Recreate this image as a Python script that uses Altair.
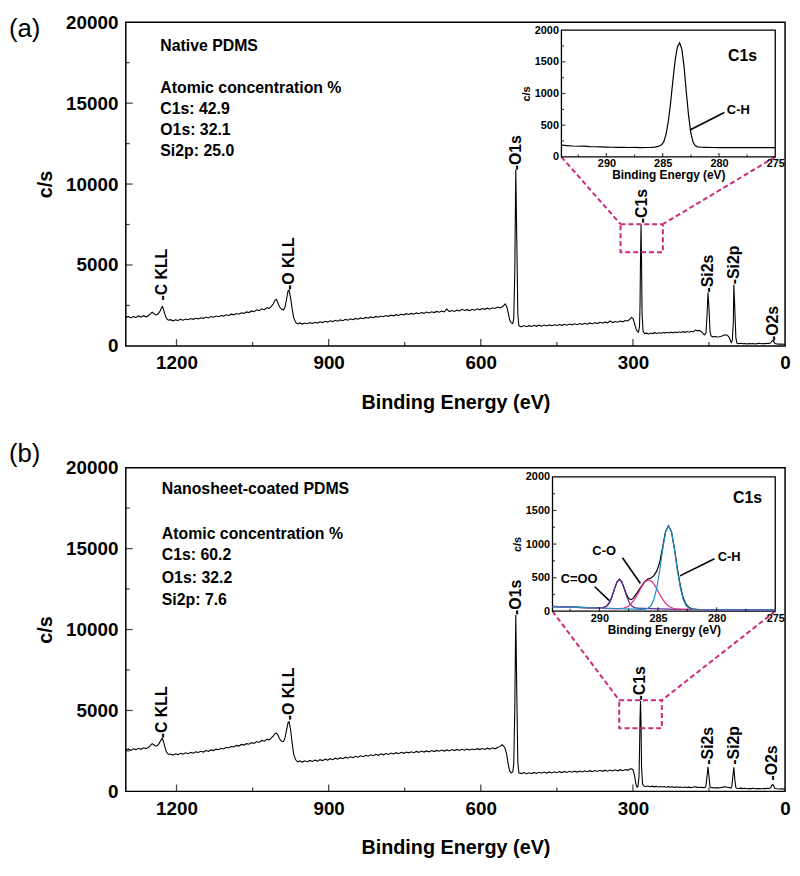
import altair as alt
import pandas as pd

FONT = "Liberation Sans"
W, H = 666, 327
PINK = "#cc2a7a"

# ---------------- survey spectra (binding energy eV, counts/s) ----------------
survey_a = [
    (1300, 1750), (1295, 1820), (1290, 1730), (1285, 1810), (1280, 1760), (1275, 1850), (1270, 1780),
    (1265, 1870), (1260, 1800), (1255, 1880), (1251, 1990), (1248, 2080), (1245, 2010), (1241, 1910),
    (1237, 1960), (1233, 2120), (1230, 2330), (1228, 2440), (1226, 2300), (1223, 1960), (1220, 1700),
    (1216, 1590), (1212, 1620), (1207, 1550), (1202, 1610), (1197, 1570), (1192, 1640), (1187, 1590),
    (1182, 1660), (1177, 1620), (1172, 1690), (1167, 1640), (1162, 1710), (1157, 1670), (1152, 1740),
    (1147, 1700), (1142, 1780), (1137, 1730), (1132, 1810), (1127, 1770), (1122, 1850), (1117, 1800),
    (1112, 1880), (1107, 1840), (1102, 1920), (1097, 1880), (1092, 1960), (1087, 1920), (1082, 2000),
    (1077, 1960), (1072, 2050), (1067, 2010), (1062, 2100), (1057, 2060), (1052, 2160), (1047, 2110),
    (1042, 2230), (1037, 2180), (1032, 2290), (1027, 2240), (1022, 2360), (1017, 2320), (1013, 2450),
    (1009, 2600), (1006, 2820), (1003, 2880), (1000, 2650), (997, 2420), (993, 2280), (989, 2220),
    (986, 2400), (983, 2900), (980, 3400), (978, 3440), (975, 2950), (972, 2300), (969, 1750),
    (965, 1450), (961, 1360), (957, 1420), (952, 1350), (947, 1410), (942, 1370), (937, 1440),
    (932, 1390), (927, 1460), (922, 1410), (917, 1490), (912, 1440), (907, 1520), (902, 1470),
    (897, 1550), (892, 1500), (887, 1580), (882, 1530), (877, 1610), (872, 1560), (867, 1640),
    (862, 1590), (857, 1670), (852, 1620), (847, 1700), (842, 1650), (837, 1730), (832, 1680),
    (827, 1760), (822, 1710), (817, 1790), (812, 1740), (807, 1820), (802, 1770), (797, 1850),
    (792, 1800), (787, 1880), (782, 1830), (777, 1900), (772, 1860), (767, 1930), (762, 1880),
    (757, 1960), (752, 1910), (747, 1990), (742, 1940), (737, 2010), (732, 1960), (727, 2040),
    (722, 1990), (717, 2060), (712, 2010), (707, 2090), (702, 2040), (697, 2110), (692, 2060),
    (687, 2130), (682, 2080), (677, 2150), (672, 2100), (667, 2280), (662, 2120), (657, 2190),
    (652, 2130), (647, 2210), (642, 2160), (637, 2260), (632, 2190), (627, 2240), (622, 2180),
    (617, 2260), (612, 2210), (607, 2290), (602, 2230), (597, 2310), (592, 2260), (587, 2330),
    (582, 2270), (577, 2360), (572, 2310), (567, 2400), (562, 2350), (558, 2420), (555, 2480),
    (552, 2600), (549, 2450), (546, 2050), (543, 1600), (540, 1420), (537, 1380), (535, 1700),
    (533, 4500), (531, 10900), (529, 6500), (527, 2000), (525, 1250), (520, 1180), (515, 1260),
    (510, 1190), (505, 1250), (500, 1200), (495, 1270), (490, 1210), (485, 1280), (480, 1220),
    (475, 1290), (470, 1230), (465, 1300), (460, 1250), (455, 1310), (450, 1260), (445, 1320),
    (440, 1270), (435, 1340), (430, 1280), (425, 1350), (420, 1300), (415, 1370), (410, 1310),
    (405, 1380), (400, 1330), (395, 1400), (390, 1340), (385, 1420), (380, 1360), (375, 1440),
    (370, 1380), (365, 1460), (360, 1400), (355, 1480), (350, 1420), (345, 1540), (340, 1440),
    (335, 1510), (330, 1460), (325, 1540), (320, 1490), (315, 1570), (310, 1540), (306, 1660),
    (303, 1760), (300, 1700), (297, 1400), (294, 1080), (291, 880), (289, 850), (287, 1200),
    (286, 2500), (285, 5500), (284, 7500), (283, 5200), (282, 2000), (280, 900), (277, 760),
    (273, 790), (269, 740), (265, 800), (261, 760), (257, 820), (253, 770), (249, 810), (245, 780),
    (241, 830), (237, 790), (233, 840), (229, 800), (225, 850), (221, 810), (217, 860), (213, 820),
    (209, 870), (205, 830), (201, 880), (197, 840), (193, 890), (189, 850), (185, 900), (181, 860),
    (177, 980), (173, 930), (169, 960), (165, 880), (162, 780), (159, 680), (156, 800), (154, 1800),
    (152, 3300), (150, 2300), (148, 900), (146, 620), (142, 560), (138, 580), (134, 550), (130, 570),
    (126, 600), (122, 640), (118, 690), (114, 660), (111, 560), (108, 350), (106, 200), (104, 350),
    (102, 1500), (101, 3800), (99, 2200), (97, 500), (95, 180), (91, 140), (87, 160), (83, 130),
    (79, 150), (75, 120), (71, 140), (67, 130), (63, 150), (59, 120), (55, 140), (51, 160), (47, 130),
    (43, 150), (39, 140), (35, 160), (31, 150), (28, 200), (26, 300), (24, 350), (22, 250), (20, 150),
    (16, 120), (12, 110), (8, 120), (4, 100), (0, 110),
]

survey_b = [
    (1300, 2560), (1295, 2620), (1290, 2530), (1285, 2630), (1280, 2580), (1275, 2660), (1270, 2600),
    (1265, 2690), (1260, 2640), (1255, 2720), (1251, 2850), (1248, 2950), (1245, 2880), (1241, 2790),
    (1237, 2850), (1234, 2980), (1231, 3150), (1228, 3270), (1226, 3100), (1223, 2750), (1220, 2450),
    (1216, 2280), (1212, 2310), (1207, 2240), (1202, 2320), (1197, 2270), (1192, 2350), (1187, 2300),
    (1182, 2380), (1177, 2330), (1172, 2410), (1167, 2360), (1162, 2440), (1157, 2400), (1152, 2480),
    (1147, 2430), (1142, 2520), (1137, 2470), (1132, 2560), (1127, 2520), (1122, 2610), (1117, 2570),
    (1112, 2660), (1107, 2620), (1102, 2720), (1097, 2680), (1092, 2780), (1087, 2740), (1082, 2840),
    (1077, 2800), (1072, 2900), (1067, 2860), (1062, 2950), (1057, 2910), (1052, 3010), (1047, 2960),
    (1042, 3080), (1037, 3020), (1032, 3150), (1027, 3100), (1022, 3220), (1017, 3180), (1013, 3300),
    (1009, 3420), (1006, 3560), (1003, 3600), (1000, 3480), (997, 3250), (993, 3100), (989, 3080),
    (986, 3300), (983, 3800), (980, 4250), (978, 4300), (975, 3800), (972, 3000), (969, 2300),
    (965, 1950), (961, 1820), (957, 1880), (952, 1810), (947, 1890), (942, 1830), (937, 1910),
    (932, 1850), (927, 1930), (922, 1870), (917, 1960), (912, 1900), (907, 1990), (902, 1930),
    (897, 2020), (892, 1960), (887, 2050), (882, 1990), (877, 2080), (872, 2020), (867, 2110),
    (862, 2050), (857, 2140), (852, 2080), (847, 2170), (842, 2110), (837, 2200), (832, 2140),
    (827, 2230), (822, 2170), (817, 2260), (812, 2200), (807, 2290), (802, 2230), (797, 2320),
    (792, 2260), (787, 2340), (782, 2280), (777, 2370), (772, 2310), (767, 2390), (762, 2330),
    (757, 2410), (752, 2350), (747, 2430), (742, 2380), (737, 2450), (732, 2390), (727, 2470),
    (722, 2410), (717, 2490), (712, 2430), (707, 2500), (702, 2440), (697, 2520), (692, 2460),
    (687, 2530), (682, 2480), (677, 2550), (672, 2490), (667, 2560), (662, 2500), (657, 2580),
    (652, 2520), (647, 2590), (642, 2530), (637, 2600), (632, 2540), (627, 2610), (622, 2560),
    (617, 2620), (612, 2570), (607, 2640), (602, 2580), (597, 2650), (592, 2590), (587, 2670),
    (582, 2610), (577, 2690), (572, 2630), (567, 2710), (562, 2780), (558, 2880), (555, 2800),
    (552, 2650), (549, 2300), (546, 1700), (543, 1250), (540, 1150), (537, 1200), (535, 1700),
    (533, 5000), (531, 10900), (529, 6000), (527, 1800), (525, 1150), (520, 1100), (515, 1160),
    (510, 1090), (505, 1150), (500, 1100), (495, 1170), (490, 1110), (485, 1180), (480, 1120),
    (475, 1190), (470, 1130), (465, 1200), (460, 1140), (455, 1210), (450, 1150), (445, 1220),
    (440, 1160), (435, 1230), (430, 1170), (425, 1240), (420, 1180), (415, 1250), (410, 1190),
    (405, 1260), (400, 1200), (395, 1270), (390, 1210), (385, 1280), (380, 1220), (375, 1290),
    (370, 1230), (365, 1300), (360, 1240), (355, 1310), (350, 1250), (345, 1320), (340, 1260),
    (335, 1330), (330, 1270), (325, 1340), (320, 1280), (315, 1350), (310, 1300), (306, 1380),
    (303, 1400), (300, 1340), (297, 1000), (294, 450), (292, 260), (290, 300), (288, 900),
    (287, 2500), (286, 4500), (285, 5600), (284, 4200), (283, 1500), (281, 450), (278, 320),
    (274, 300), (270, 330), (266, 290), (262, 320), (258, 280), (254, 310), (250, 270), (246, 300),
    (242, 270), (238, 300), (234, 260), (230, 290), (226, 260), (222, 280), (218, 250), (214, 280),
    (210, 250), (206, 270), (202, 240), (198, 270), (194, 240), (190, 260), (186, 230), (182, 260),
    (178, 280), (174, 260), (170, 240), (166, 250), (162, 230), (158, 240), (156, 350), (154, 900),
    (152, 1520), (150, 900), (148, 300), (146, 220), (142, 230), (138, 210), (134, 230), (130, 210),
    (126, 240), (122, 260), (118, 280), (114, 260), (110, 230), (107, 200), (105, 300), (103, 900),
    (101, 1480), (99, 700), (97, 230), (95, 190), (91, 180), (87, 200), (83, 170), (79, 190),
    (75, 160), (71, 180), (67, 170), (63, 190), (59, 160), (55, 180), (51, 170), (47, 160), (43, 180),
    (39, 170), (35, 190), (31, 180), (28, 250), (26, 380), (24, 420), (22, 300), (20, 180), (16, 160),
    (12, 150), (8, 160), (4, 140), (0, 150),
]

# peak labels: (text, BE, counts at label foot)
peaks_a = [("-C KLL", 1228, 2800), ("-O KLL", 979, 3450), ("-O1s", 531, 10850),
           ("-C1s", 283, 7580), ("-Si2s", 152, 3300), ("-Si2p", 101, 3810), ("-O2s", 24, 300)]
peaks_b = [("-C KLL", 1228, 3280), ("-O KLL", 979, 4390), ("-O1s", 531, 10900),
           ("-C1s", 285, 5610), ("-Si2s", 152, 1650), ("-Si2p", 101, 1650), ("-O2s", 25, 670)]

notes_a = [("Native PDMS", 1232, 18530), ("Atomic concentration %", 1232, 15945),
           ("C1s: 42.9", 1232, 14660), ("O1s: 32.1", 1232, 13350), ("Si2p: 25.0", 1232, 12050)]
notes_b = [("Nanosheet-coated PDMS", 1229, 18660), ("Atomic concentration %", 1229, 15915),
           ("C1s: 60.2", 1229, 14590), ("O1s: 32.2", 1229, 13190), ("Si2p: 7.6", 1229, 11850)]

# zoom box (BE from, BE to, counts low, counts high) and inset box (BE left, BE right, counts top, counts bottom)
zoom_a = (324.5, 241, 5790, 7520)
zoom_b = (327, 243, 3900, 5630)
inset_box_a = (441, 19.4, 19510, 11680)
inset_box_b = (458.6, 19.4, 19430, 11130)

# ---------------- C1s high-resolution insets ----------------
c1s_native = [
    (294, 185), (293.5, 178), (293, 172), (292.5, 168), (292, 170), (291.5, 163), (291, 160),
    (290.5, 158), (290, 155), (289.5, 152), (289, 150), (288.5, 152), (288, 148), (287.5, 150),
    (287, 147), (286.5, 148), (286, 150), (285.7, 155), (285.4, 165), (285.1, 190), (284.9, 240),
    (284.7, 360), (284.5, 560), (284.3, 850), (284.1, 1200), (283.9, 1520), (283.7, 1730),
    (283.5, 1800), (283.3, 1700), (283.1, 1420), (282.9, 1020), (282.7, 650), (282.5, 380),
    (282.3, 230), (282.1, 175), (281.9, 158), (281.6, 152), (281.2, 150), (280.5, 148), (280, 147),
    (279, 146), (278, 145), (277, 146), (276, 145), (275, 145),
]
c1s_coated = [
    (294, 72), (293.5, 68), (293, 64), (292.5, 62), (292, 60), (291.5, 57), (291, 55), (290.5, 52),
    (290, 52), (289.7, 56), (289.4, 75), (289.1, 140), (288.9, 230), (288.7, 340), (288.5, 430),
    (288.3, 478), (288.1, 440), (287.9, 350), (287.7, 255), (287.5, 190), (287.3, 172), (287.1, 195),
    (286.8, 270), (286.5, 350), (286.2, 430), (285.9, 475), (285.6, 495), (285.35, 530), (285.1, 600),
    (284.85, 730), (284.6, 960), (284.35, 1190), (284.1, 1275), (283.85, 1180), (283.6, 940),
    (283.35, 640), (283.1, 380), (282.85, 200), (282.6, 100), (282.35, 55), (282.1, 35), (281.5, 26),
    (280, 23), (278, 21), (276, 20), (275, 20),
]
fit_cooo = [
    (294, 70), (292, 58), (290.5, 50), (289.8, 52), (289.5, 62), (289.3, 89), (289.1, 146),
    (288.9, 235), (288.7, 344), (288.5, 438), (288.3, 475), (288.1, 438), (287.9, 344), (287.7, 235),
    (287.5, 146), (287.3, 89), (287.1, 61), (286.8, 45), (285, 35), (282, 25), (278, 20), (275, 20),
]
fit_co = [
    (294, 68), (292, 56), (290, 45), (288.6, 36), (288.3, 38), (287.9, 48), (287.6, 68), (287.3, 108),
    (287.0, 176), (286.7, 265), (286.4, 362), (286.1, 440), (285.8, 470), (285.5, 440), (285.2, 362),
    (284.9, 265), (284.6, 176), (284.3, 108), (284.0, 66), (283.7, 44), (283.3, 30), (282, 24),
    (278, 20), (275, 20),
]
fit_ch = [
    (294, 66), (290, 48), (287, 32), (286.5, 28), (286.1, 30), (285.85, 44), (285.6, 85), (285.35, 175),
    (285.1, 350), (284.85, 610), (284.6, 920), (284.35, 1180), (284.1, 1270), (283.85, 1180),
    (283.6, 920), (283.35, 610), (283.1, 350), (282.85, 175), (282.6, 85), (282.35, 44), (282.1, 28),
    (281.7, 22), (278, 20), (275, 20),
]
fit_names = ["C=OO", "C-O", "C-H"]
fit_colors = ["#5b2d9e", "#e0308a", "#1f8fc4"]

inset_text_a = [("C1s", 279.2, 1590, 16), ("C-H", 279.3, 740, 13)]
inset_ptr_a = [(282.58, 425, 279.52, 700)]
inset_text_b = [("C1s", 278.6, 1680, 16), ("C-H", 279.9, 806, 13), ("C-O", 290.6, 894, 13),
                ("C=OO", 293.3, 476, 13)]
inset_ptr_b = [(283.13, 526, 280.18, 781), (286.5, 413, 288.03, 796), (289.15, 158, 290.4, 364)]

main_x_major = [1200, 900, 600, 300]
main_x_minor = [1050, 750, 450, 150]
main_y_major = [5000, 10000, 15000]
main_y_minor = [2500, 7500, 12500, 17500]
in_x_major = [290, 285, 280]
in_x_minor = [292.5, 287.5, 282.5, 277.5]
in_y_major = [500, 1000, 1500]
in_y_minor = [250, 750, 1250, 1750]


def px(be):
    return (1300 - be) / 1300 * W


def py(c):
    return (20000 - c) / 20000 * H


def ticks(values, scale, axis_dir, pos, length):
    df = pd.DataFrame({"v": values})
    if axis_dir == "x":
        return alt.Chart(df).mark_tick(orient="vertical", color="black", thickness=1.3, size=length).encode(
            x=alt.X("v:Q", scale=scale, axis=None), y=alt.value(pos))
    return alt.Chart(df).mark_tick(orient="horizontal", color="black", thickness=1.3, size=length).encode(
        y=alt.Y("v:Q", scale=scale, axis=None), x=alt.value(pos))


def panel(tag, tag_y, survey, peaks, notes, zoom, ibox, inset_lines, itexts, iptrs):
    xs = alt.Scale(domain=[1300, 0], nice=False, zero=False)
    ys = alt.Scale(domain=[0, 20000], nice=False)
    X = lambda f, **k: alt.X(f, scale=xs, **k)
    Y = lambda f, **k: alt.Y(f, scale=ys, **k)

    line = alt.Chart(pd.DataFrame(survey, columns=["be", "cps"])).mark_line(
        color="black", strokeWidth=1.1).encode(
        x=X("be:Q", axis=alt.Axis(values=[1200, 900, 600, 300, 0], format="d", title="Binding Energy (eV)",
                                  labelPadding=8, titlePadding=20, orient="bottom")),
        y=Y("cps:Q", axis=alt.Axis(values=[0, 5000, 10000, 15000, 20000], format="d", title="c/s",
                                   labelPadding=8, titlePadding=10, orient="left")),
    )
    zdf = pd.DataFrame([zoom], columns=["b1", "b2", "c1", "c2"])
    zrect = alt.Chart(zdf).mark_rect(fillOpacity=0, stroke=PINK, strokeWidth=2, strokeDash=[5, 3]).encode(
        x=X("b1:Q", axis=None), x2="b2:Q", y=Y("c1:Q", axis=None), y2="c2:Q")
    ldf = pd.DataFrame([(ibox[0], ibox[3], zoom[0], zoom[3]), (ibox[1], ibox[3], zoom[1], zoom[3])],
                       columns=["bx", "cy", "bx2", "cy2"])
    links = alt.Chart(ldf).mark_rule(stroke=PINK, strokeWidth=2, strokeDash=[5, 3]).encode(
        x=X("bx:Q", axis=None), y=Y("cy:Q", axis=None), x2="bx2:Q", y2="cy2:Q")
    plab = alt.Chart(pd.DataFrame(peaks, columns=["t", "be", "c"])).mark_text(
        angle=270, align="left", baseline="middle", font=FONT, fontSize=16, fontWeight="bold",
        color="black").encode(x=X("be:Q", axis=None), y=Y("c:Q", axis=None), text="t:N")
    nlab = alt.Chart(pd.DataFrame(notes, columns=["t", "be", "c"])).mark_text(
        align="left", baseline="middle", font=FONT, fontSize=16, fontWeight="bold", color="black").encode(
        x=X("be:Q", axis=None), y=Y("c:Q", axis=None), text="t:N")
    tagc = alt.Chart(pd.DataFrame({"t": [tag]})).mark_text(
        align="left", baseline="alphabetic", font=FONT, fontSize=26, color="black").encode(
        text="t:N", x=alt.value(-118), y=alt.value(tag_y))
    main_layers = [
        line, zrect, links, plab, nlab, tagc,
        ticks(main_x_major, xs, "x", H - 3.5, 7), ticks(main_x_minor, xs, "x", H - 2, 4),
        ticks(main_y_major, ys, "y", 3.5, 7), ticks(main_y_minor, ys, "y", 2, 4),
    ]

    x0, x1 = px(ibox[0]), px(ibox[1])
    yt, yb = py(ibox[2]), py(ibox[3])
    xi = alt.Scale(domain=[294, 275], range=[x0, x1], nice=False, zero=False)
    yi = alt.Scale(domain=[0, 2000], range=[yb, yt], nice=False)
    frame = alt.Chart(pd.DataFrame({"a": [294], "b": [275], "c": [0], "d": [2000]})).mark_rect(
        fill="white", stroke="black", strokeWidth=1.3).encode(
        x=alt.X("a:Q", scale=xi, axis=alt.Axis(orient="bottom", offset=-(H - yb), values=[290, 285, 280, 275],
                                                 format="d", labelFontSize=11, labelPadding=1,
                                                 title="Binding Energy (eV)", titleFontSize=12, titlePadding=1,
                                                 zindex=3)),
        x2="b:Q",
        y=alt.Y("c:Q", scale=yi, axis=alt.Axis(orient="left", offset=-x0, values=[0, 500, 1000, 1500, 2000],
                                                 format="d", labelFontSize=11, labelPadding=3,
                                                 title="c/s", titleFontSize=11, titlePadding=3, zindex=3)),
        y2="d:Q")
    inset_layers = [frame]
    for curve_df, color_enc in inset_lines:
        inset_layers.append(alt.Chart(curve_df).mark_line(strokeWidth=1.2).encode(
            x=alt.X("be:Q", scale=xi, axis=None), y=alt.Y("cps:Q", scale=yi, axis=None),
            detail="name:N", color=color_enc))
    inset_layers.append(alt.Chart(pd.DataFrame(iptrs, columns=["a", "b", "c", "d"])).mark_rule(
        color="black", strokeWidth=1.6).encode(
        x=alt.X("a:Q", scale=xi, axis=None), y=alt.Y("b:Q", scale=yi, axis=None), x2="c:Q", y2="d:Q"))
    inset_layers.append(alt.Chart(pd.DataFrame(itexts, columns=["t", "be", "c", "fs"])).mark_text(
        align="left", baseline="middle", font=FONT, fontWeight="bold", color="black").encode(
        x=alt.X("be:Q", scale=xi, axis=None), y=alt.Y("c:Q", scale=yi, axis=None), text="t:N",
        size=alt.Size("fs:Q", scale=None, legend=None)))
    inset_layers += [ticks(in_x_major, xi, "x", yb - 2, 4), ticks(in_x_minor, xi, "x", yb - 1.25, 2.5),
                     ticks(in_y_major, yi, "y", x0 + 2, 4), ticks(in_y_minor, yi, "y", x0 + 1.25, 2.5)]

    return alt.layer(*main_layers, *inset_layers).resolve_scale(
        x="independent", y="independent", color="independent", size="independent"
    ).properties(width=W, height=H)


black = alt.value("black")
curve_a = pd.DataFrame(c1s_native, columns=["be", "cps"]).assign(name="env")
env_b = pd.DataFrame(c1s_coated, columns=["be", "cps"]).assign(name="env")
fits = pd.concat([
    pd.DataFrame(fit_cooo, columns=["be", "cps"]).assign(name=fit_names[0]),
    pd.DataFrame(fit_co, columns=["be", "cps"]).assign(name=fit_names[1]),
    pd.DataFrame(fit_ch, columns=["be", "cps"]).assign(name=fit_names[2]),
])
fit_color = alt.Color("name:N", scale=alt.Scale(domain=fit_names, range=fit_colors), legend=None)

pa = panel("(a)", 15, survey_a, peaks_a, notes_a, zoom_a, inset_box_a, [(curve_a, black)],
           inset_text_a, inset_ptr_a)
pb = panel("(b)", -6, survey_b, peaks_b, notes_b, zoom_b, inset_box_b, [(env_b, black), (fits, fit_color)],
           inset_text_b, inset_ptr_b)

chart = alt.vconcat(pa, pb, spacing=27).properties(
    padding=0, background="white"
).configure_view(stroke="black", strokeWidth=1.5).configure_axis(
    grid=False, domain=False, ticks=False, labelFlush=False, labelOverlap=False,
    labelFont=FONT, labelFontWeight="bold", labelFontSize=19, labelColor="black",
    titleFont=FONT, titleFontWeight="bold", titleFontSize=20, titleColor="black",
)

chart.save("out.html", embed_options={"renderer": "svg", "actions": False})
